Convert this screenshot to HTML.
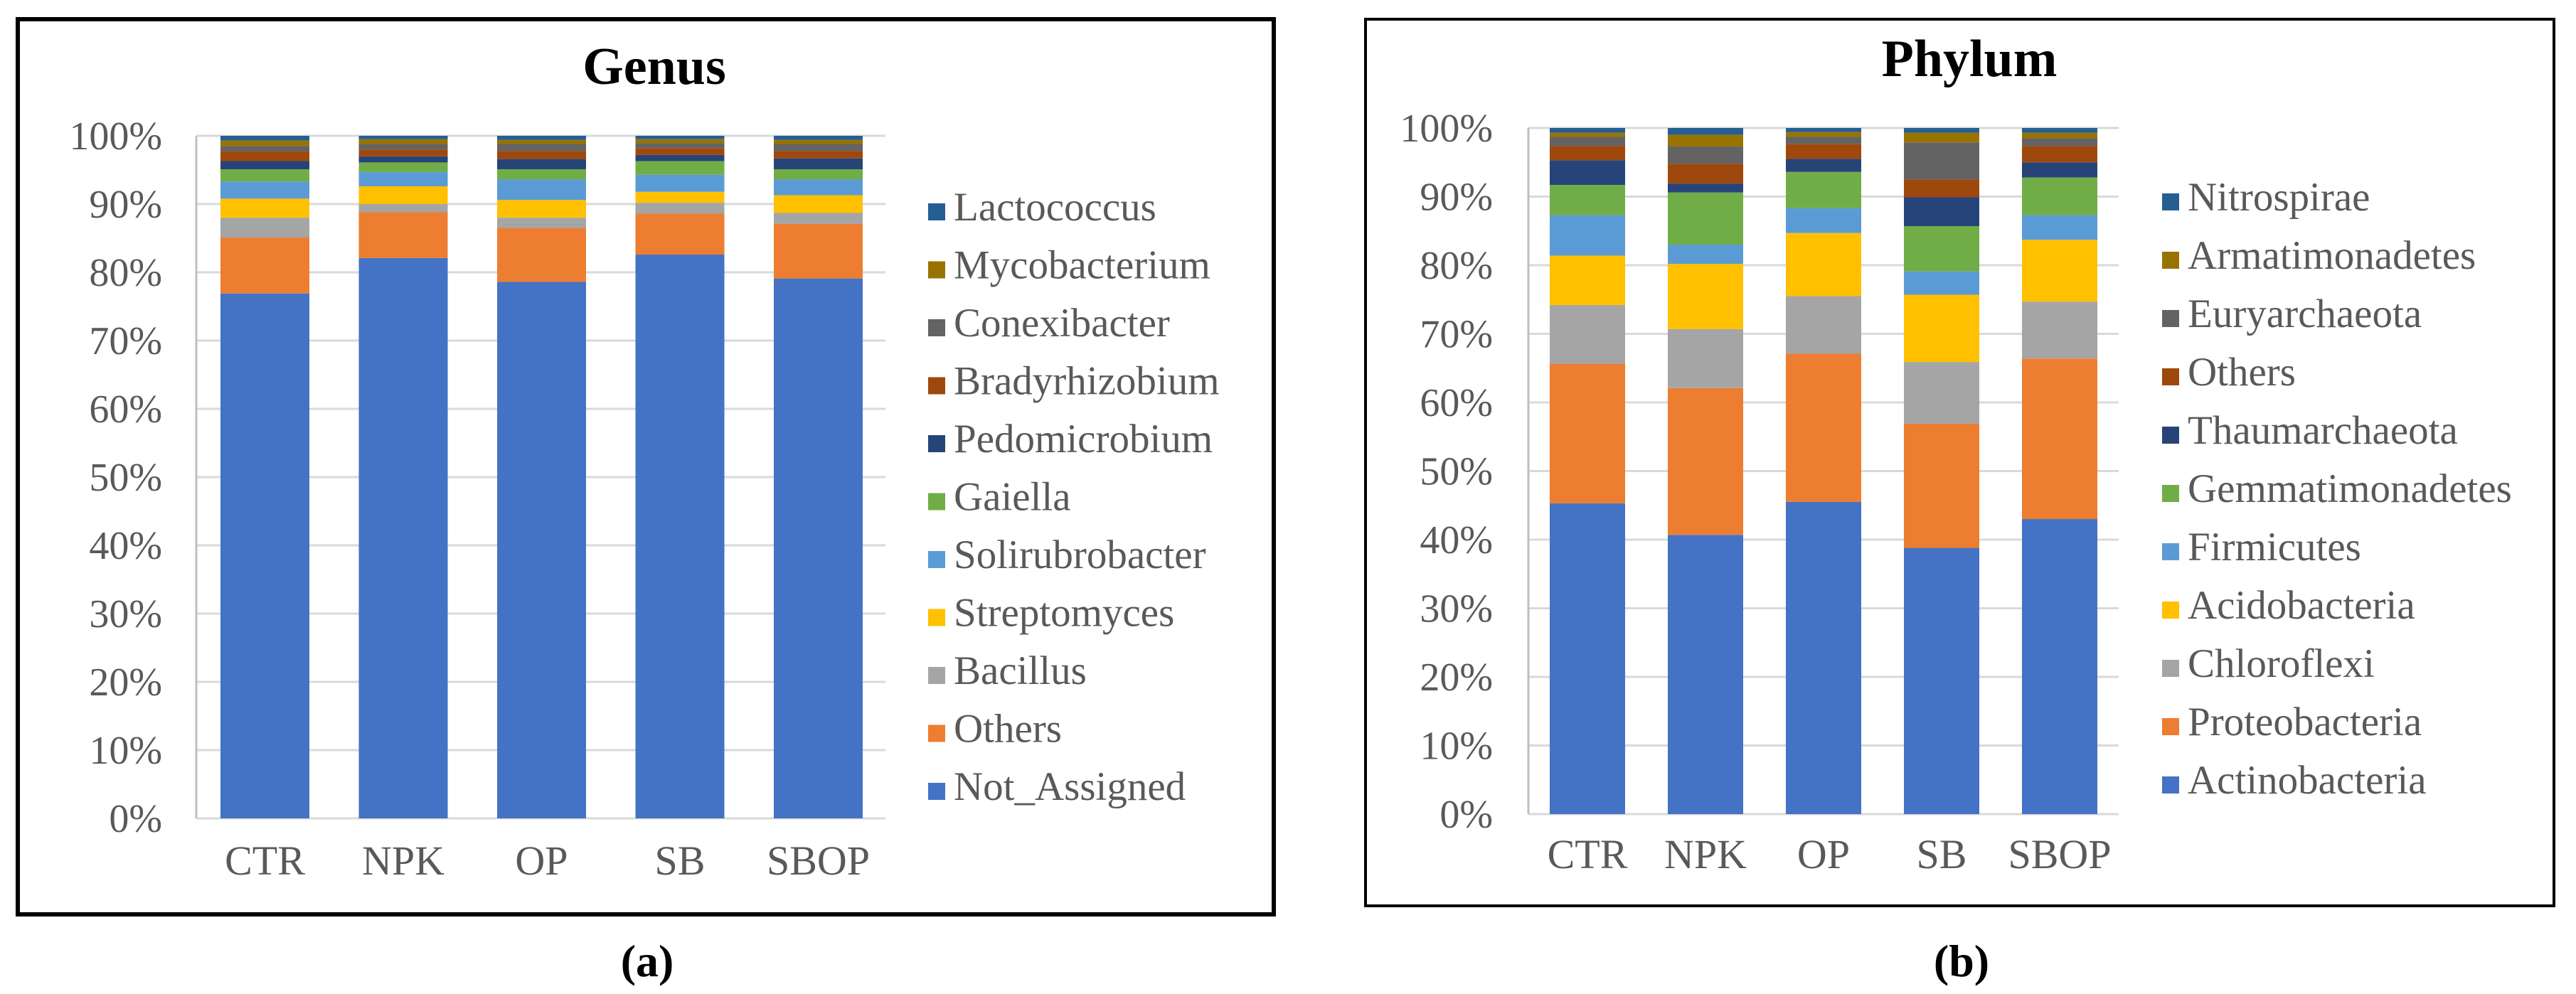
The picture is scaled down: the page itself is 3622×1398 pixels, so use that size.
<!DOCTYPE html>
<html><head><meta charset="utf-8">
<style>
html,body{margin:0;padding:0;background:#fff;}
svg{display:block;}
text{font-family:"Liberation Serif",serif;}
</style></head>
<body>
<svg id="fig" width="3622" height="1398" viewBox="0 0 3622 1398" xmlns="http://www.w3.org/2000/svg">
<rect x="25" y="27" width="1766" height="1259" fill="none" stroke="#000" stroke-width="6"/>
<rect x="1920" y="27" width="1671" height="1247" fill="none" stroke="#000" stroke-width="4"/>
<text x="920" y="118" text-anchor="middle" font-size="74" font-weight="bold">Genus</text>
<text x="2769" y="107" text-anchor="middle" font-size="74" font-weight="bold">Phylum</text>
<text x="910" y="1373" text-anchor="middle" font-size="64" font-weight="bold">(a)</text>
<text x="2758" y="1373" text-anchor="middle" font-size="64" font-weight="bold">(b)</text>
<g id="ga"></g>
<g id="gb"></g>
</svg>
<script>
const categories = ["CTR","NPK","OP","SB","SBOP"];
const yTicks = ["0%","10%","20%","30%","40%","50%","60%","70%","80%","90%","100%"];
const colors = ["#4472C4","#ED7D31","#A5A5A5","#FFC000","#5B9BD5","#70AD47","#264478","#9E480E","#636363","#997300","#255E91"];

const genusSeries = ["Not_Assigned","Others","Bacillus","Streptomyces","Solirubrobacter","Gaiella","Pedomicrobium","Bradyrhizobium","Conexibacter","Mycobacterium","Lactococcus"];
const genusNotAssigned = [76.9,82.1,78.6,82.6,79.1];
const genusOthers = [8.2,6.7,7.9,6.0,8.0];
const genusBacillus = [2.9,1.2,1.5,1.6,1.6];
const genusStreptomyces = [2.8,2.6,2.6,1.6,2.6];
const genusSolirubrobacter = [2.5,2.1,3.0,2.5,2.3];
const genusGaiella = [1.8,1.4,1.5,2.0,1.5];
const genusPedomicrobium = [1.2,0.9,1.5,0.9,1.6];
const genusBradyrhizobium = [1.4,1.0,1.2,1.0,1.1];
const genusConexibacter = [0.8,0.8,1.0,0.7,1.0];
const genusMycobacterium = [0.8,0.7,0.6,0.6,0.6];
const genusLactococcus = [0.7,0.5,0.6,0.5,0.6];

const phylumSeries = ["Actinobacteria","Proteobacteria","Chloroflexi","Acidobacteria","Firmicutes","Gemmatimonadetes","Thaumarchaeota","Others","Euryarchaeota","Armatimonadetes","Nitrospirae"];
const phylumActinobacteria = [45.3,40.7,45.5,38.8,43.0];
const phylumProteobacteria = [20.3,21.4,21.6,18.1,23.4];
const phylumChloroflexi = [8.6,8.6,8.4,9.0,8.3];
const phylumAcidobacteria = [7.2,9.5,9.2,9.8,9.0];
const phylumFirmicutes = [5.9,2.8,3.6,3.4,3.6];
const phylumGemmatimonadetes = [4.4,7.6,5.3,6.6,5.5];
const phylumThaumarchaeota = [3.6,1.3,1.9,4.2,2.2];
const phylumOthers = [2.1,2.9,2.2,2.6,2.4];
const phylumEuryarchaeota = [1.3,2.5,1.0,5.4,1.1];
const phylumArmatimonadetes = [0.6,1.7,0.7,1.4,0.8];
const phylumNitrospirae = [0.7,1.0,0.6,0.7,0.7];

const genusValues = [genusNotAssigned,genusOthers,genusBacillus,genusStreptomyces,genusSolirubrobacter,genusGaiella,genusPedomicrobium,genusBradyrhizobium,genusConexibacter,genusMycobacterium,genusLactococcus];
const phylumValues = [phylumActinobacteria,phylumProteobacteria,phylumChloroflexi,phylumAcidobacteria,phylumFirmicutes,phylumGemmatimonadetes,phylumThaumarchaeota,phylumOthers,phylumEuryarchaeota,phylumArmatimonadetes,phylumNitrospirae];

const NS = "http://www.w3.org/2000/svg";
function mk(parent, tag, attrs){ const e=document.createElementNS(NS,tag); for(const k in attrs) e.setAttribute(k,attrs[k]); parent.appendChild(e); return e; }

function drawChart(g, cfg, seriesNames, values, prefix){
  const y = v => cfg.y0 - (v/100)*(cfg.y0-cfg.y100);
  const barX = i => cfg.firstBar + i*cfg.step;
  yTicks.forEach((t,i)=>{
    const v=i*10;
    const gl=mk(g,"line",{x1:cfg.gx0,x2:cfg.gx1,y1:y(v),y2:y(v),stroke:"#d9d9d9","stroke-width":3});
    
    
    const tl=mk(g,"text",{x:cfg.labelRight,y:y(v)+19,"text-anchor":"end","font-size":56,fill:"#595959"});
    tl.textContent=t;
    
    
  });
  const ax=mk(g,"line",{x1:cfg.gx0,x2:cfg.gx0,y1:y(100),y2:y(0),stroke:"#bfbfbf","stroke-width":3});
  
  
  categories.forEach((c,i)=>{
    let acc=0;
    values.forEach((arr,s)=>{
      const v=arr[i];
      const r=mk(g,"rect",{x:barX(i),y:y(acc+v),width:cfg.bw,height:y(acc)-y(acc+v),fill:colors[s]});
      
      
      acc+=v;
    });
    const cl=mk(g,"text",{x:barX(i)+cfg.bw/2,y:cfg.catY,"text-anchor":"middle","font-size":58,fill:"#595959"});
    cl.textContent=c;
    
    
  });
  for(let s=seriesNames.length-1, k=0; s>=0; s--, k++){
    const ly=cfg.legY + k*cfg.legStep;
    const sq=mk(g,"rect",{x:cfg.legX,y:ly-22,width:24,height:24,fill:colors[s]});
    
    
    const lt=mk(g,"text",{x:cfg.legX+36,y:ly+2,"font-size":57,fill:"#595959"});
    lt.textContent=seriesNames[s];
    
    
  }
}

drawChart(document.getElementById("ga"),
  {y0:1151,y100:191,gx0:276,gx1:1245,labelRight:228,firstBar:310,step:194.5,bw:125,catY:1230,legX:1305,legY:308,legStep:81.5},
  genusSeries, genusValues, "genus");
drawChart(document.getElementById("gb"),
  {y0:1145,y100:180,gx0:2149,gx1:2979,labelRight:2099,firstBar:2179,step:166,bw:106,catY:1221,legX:3040,legY:294,legStep:82},
  phylumSeries, phylumValues, "phylum");
</script>
</body></html>
